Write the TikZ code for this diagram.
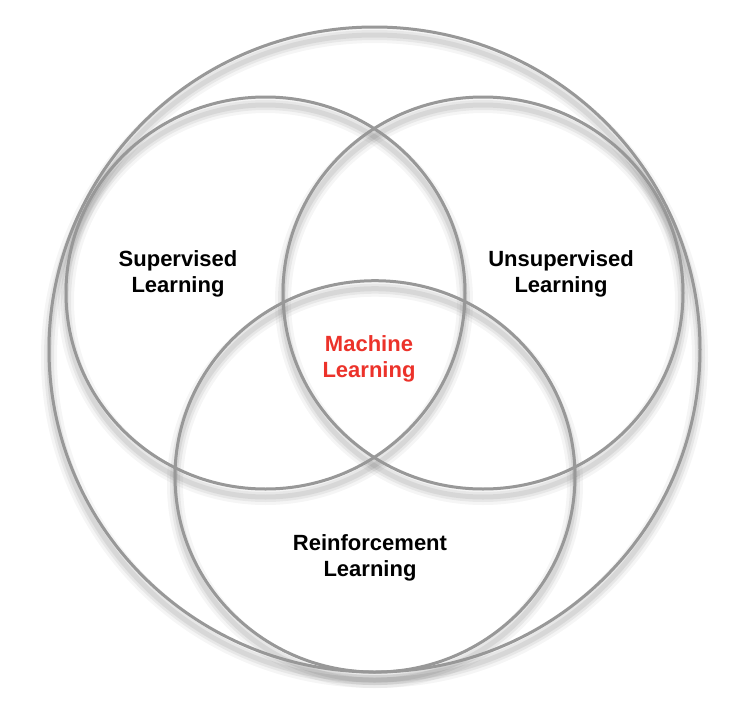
\documentclass[tikz,border=0pt]{standalone}
\usepackage{fontspec}
\setmainfont{Liberation Sans}
\begin{document}
\begin{tikzpicture}[x=1pt,y=-1pt,
  ring/.style={draw=ringgray,line width=3pt},
  shade1/.style={draw=black,draw opacity=0.04,line width=16pt},
  shade2/.style={draw=black,draw opacity=0.055,line width=10pt},
  shade3/.style={draw=black,draw opacity=0.065,line width=5pt},
  lbl/.style={font=\bfseries\fontsize{22}{26.5}\selectfont,align=center,text=black,inner sep=0pt},
  mllbl/.style={lbl,text=mlred}]
\definecolor{ringgray}{RGB}{152,152,152}
\definecolor{mlred}{RGB}{236,50,42}
\useasboundingbox (0,0) rectangle (740,710);
\fill[white] (0,0) rectangle (740,710);
% centres
\coordinate (outer) at (374.5,349.5);
\coordinate (sup) at (265.5,293);
\coordinate (uns) at (483,293);
\coordinate (rei) at (375,476.4);
% shadows
\foreach \s in {shade1,shade2,shade3}{
  \draw[\s] ([yshift=-8]outer) ellipse [x radius=325.5,y radius=322.5];
  \draw[\s] ([yshift=-8]sup) ellipse [x radius=199.5,y radius=196];
  \draw[\s] ([yshift=-8]uns) ellipse [x radius=200,y radius=196];
  \draw[\s] ([yshift=-8]rei) ellipse [x radius=200,y radius=195.7];
}
% rings
\draw[ring] (outer) ellipse [x radius=325.5,y radius=322.5];
\draw[ring] (sup) ellipse [x radius=199.5,y radius=196];
\draw[ring] (uns) ellipse [x radius=200,y radius=196];
\draw[ring] (rei) ellipse [x radius=200,y radius=195.7];
% labels
\node[lbl] (supl) at (178,274) {Supervised\\Learning};
\node[lbl] (unsl) at (561,274) {Unsupervised\\Learning};
\node[mllbl] (mll) at (369,359) {Machine\\Learning};
\node[lbl] (reil) at (370,558) {Reinforcement\\Learning};
\end{tikzpicture}
\end{document}
